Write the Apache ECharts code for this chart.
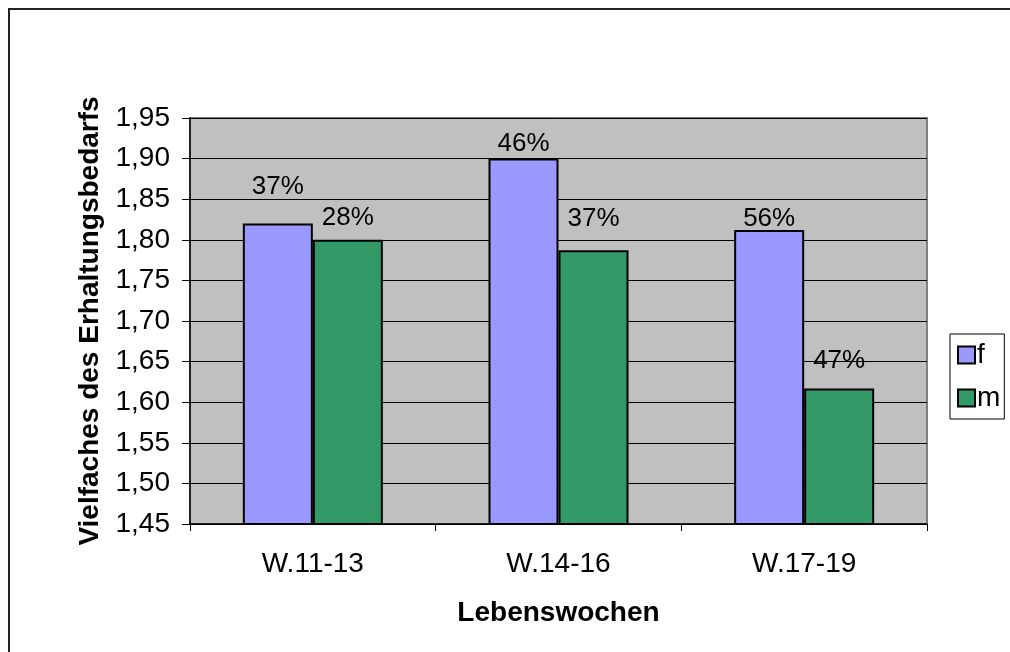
<!DOCTYPE html>
<html>
<head>
<meta charset="utf-8">
<script src="https://cdn.jsdelivr.net/npm/echarts@6/dist/echarts.min.js"></script>
<style>
html,body{margin:0;padding:0;background:#fff;overflow:hidden;}
#c{position:absolute;left:0;top:0;width:1010px;height:652px;}
</style>
</head>
<body>
<div id="c"></div>
<script>
const categories = ['W.11-13', 'W.14-16', 'W.17-19'];
const seriesNames = ['f', 'm'];
const fValues = [1.82, 1.90, 1.812];
const mValues = [1.80, 1.787, 1.617];
const fLabels = ['37%', '46%', '56%'];
const mLabels = ['28%', '37%', '47%'];
const fLabelGap = [24, 2, -2];
const mLabelGap = [9, 19, 15];

const FONT = 'Liberation Sans, Arial, sans-serif';

function buildData(values, labels, gaps) {
  return values.map((v, i) => ({
    value: v,
    label: { formatter: labels[i], distance: gaps[i] }
  }));
}

const chart = echarts.init(document.getElementById('c'), null, {renderer: 'canvas'});
chart.setOption({
  animation: false,
  backgroundColor: '#fff',
  textStyle: { fontFamily: FONT, color: '#000' },
  graphic: [{
    type: 'polyline', silent: true, z: 100,
    shape: { points: [[9, 660], [9, 9], [1020, 9]] },
    style: { stroke: '#222', lineWidth: 2, fill: null }
  }],
  grid: {
    left: 190, right: 83, top: 118, bottom: 128,
    show: true, backgroundColor: '#C0C0C0', borderColor: '#808080', borderWidth: 2
  },
  legend: {
    orient: 'vertical',
    left: 950, top: 334,
    data: seriesNames,
    icon: 'rect',
    itemWidth: 17, itemHeight: 17,
    itemGap: 15,
    padding: [7, 4, 7, 7],
    borderColor: '#000', borderWidth: 1,
    backgroundColor: '#fff',
    textStyle: { fontFamily: FONT, fontSize: 28, color: '#000', padding: [0, 0, 0, -3] }
  },
  xAxis: {
    type: 'category',
    data: categories,
    name: 'Lebenswochen',
    nameLocation: 'middle',
    nameGap: 75,
    nameTextStyle: { fontFamily: FONT, fontSize: 28, fontWeight: 'bold', color: '#000' },
    axisLine: { lineStyle: { color: '#000', width: 1.5 } },
    axisTick: { show: true, length: 7, lineStyle: { color: '#000', width: 1 } },
    axisLabel: { fontFamily: FONT, fontSize: 28, color: '#000', margin: 26 }
  },
  yAxis: {
    type: 'value',
    min: 1.45, max: 1.95, interval: 0.05,
    name: 'Vielfaches des Erhaltungsbedarfs',
    nameLocation: 'middle',
    nameGap: 86,
    nameTextStyle: { fontFamily: FONT, fontSize: 28, fontWeight: 'bold', color: '#000' },
    axisLine: { show: true, lineStyle: { color: '#000', width: 1.5 } },
    axisTick: { show: true, length: 8, lineStyle: { color: '#000', width: 1 } },
    axisLabel: {
      fontFamily: FONT, fontSize: 28, color: '#000', margin: 20,
      formatter: v => v.toFixed(2).replace('.', ',')
    },
    splitLine: { show: true, lineStyle: { color: '#000', width: 1 } }
  },
  series: [
    {
      name: seriesNames[0], type: 'bar', barWidth: 70, barGap: '0%',
      data: buildData(fValues, fLabels, fLabelGap),
      itemStyle: { color: '#9999FF', borderColor: '#000', borderWidth: 2 },
      label: { show: true, position: 'top', fontFamily: FONT, fontSize: 26, color: '#000' }
    },
    {
      name: seriesNames[1], type: 'bar', barWidth: 70, barGap: '0%',
      data: buildData(mValues, mLabels, mLabelGap),
      itemStyle: { color: '#339966', borderColor: '#000', borderWidth: 2 },
      label: { show: true, position: 'top', fontFamily: FONT, fontSize: 26, color: '#000' }
    }
  ]
});
</script>
</body>
</html>
